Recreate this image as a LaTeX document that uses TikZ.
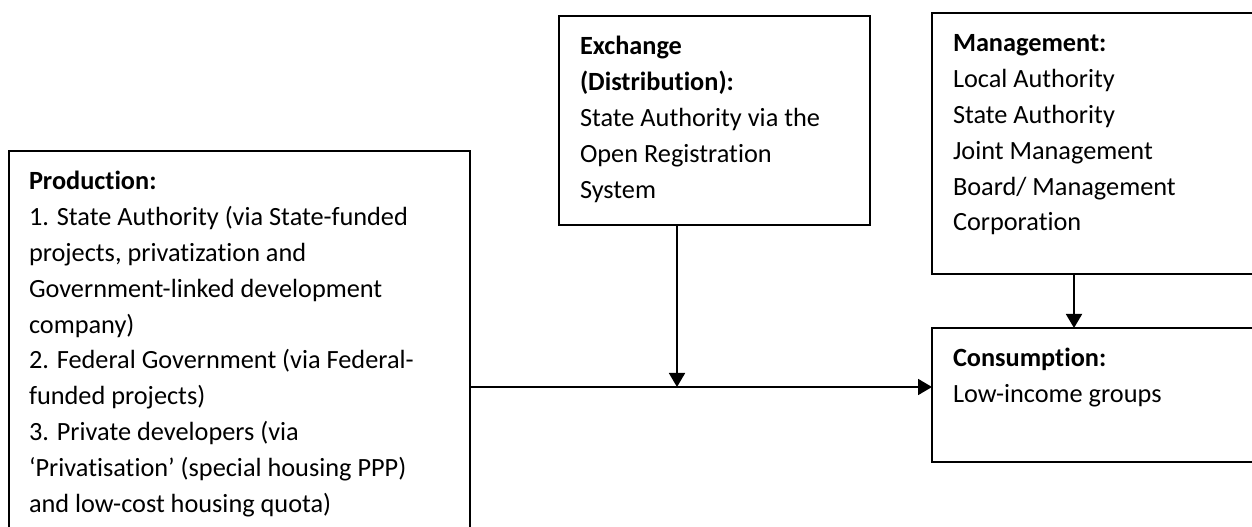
\documentclass[tikz,border=0pt]{standalone}
\usepackage{fontspec}
\setmainfont{Carlito}[Ligatures=NoCommon]
\usetikzlibrary{arrows.meta}
\tikzset{
  box/.style={draw=black, line width=1.8pt, rectangle, inner sep=0pt, outer sep=0pt, anchor=north west},
  txt/.style={anchor=north west, inner sep=0pt, outer sep=0pt, align=left,
    font=\fontsize{26.3}{35.8}\selectfont, text=black},
  conn/.style={line width=1.8pt, -{Triangle[length=14pt,width=16pt]}}
}
\newcommand{\fstrut}{\rule{0pt}{28pt}}
\begin{document}
\begin{tikzpicture}[x=1pt,y=1pt]
\useasboundingbox (0,0) rectangle (1252,527);
\clip (0,0) rectangle (1252,527);
\fill[white] (0,0) rectangle (1252,527);
% boxes
\node[box, minimum width=461pt, minimum height=391pt] (prod) at (9,376) {};
\node[box, minimum width=311pt, minimum height=209pt] (exch) at (559,511) {};
\node[box, minimum width=330pt, minimum height=261pt] (mgmt) at (932,514) {};
\node[box, minimum width=330pt, minimum height=134pt] (cons) at (932,199) {};
% texts
\node[txt] (prodt) at ([shift={(20pt,-11pt)}]prod.north west) {\fstrut\textbf{Production:}\\
1. State Authority (via State-funded\\
projects, privatization and\\
Government-linked development\\
company)\\
2. Federal Government (via Federal-\\
funded projects)\\
3. Private developers (via\\
‘Privatisation’ (special housing PPP)\\
and low-cost housing quota)};
\node[txt] (excht) at ([shift={(21pt,-11pt)}]exch.north west) {\fstrut\textbf{Exchange}\\
\textbf{(Distribution):}\\
State Authority via the\\
Open Registration\\
System};
\node[txt] (mgmtt) at ([shift={(21pt,-11pt)}]mgmt.north west) {\fstrut\textbf{Management:}\\
Local Authority\\
State Authority\\
Joint Management\\
Board/ Management\\
Corporation};
\node[txt] (const) at ([shift={(21pt,-11pt)}]cons.north west) {\fstrut\textbf{Consumption:}\\
Low-income groups};
% connectors
\coordinate (j) at (677,140);
\coordinate (m) at (1074,140);
\draw[conn] (exch.south -| j) -- (j);
\draw[conn] (prod.east |- j) -- (cons.west |- j);
\draw[conn] (mgmt.south -| m) -- (cons.north -| m);
\end{tikzpicture}
\end{document}
